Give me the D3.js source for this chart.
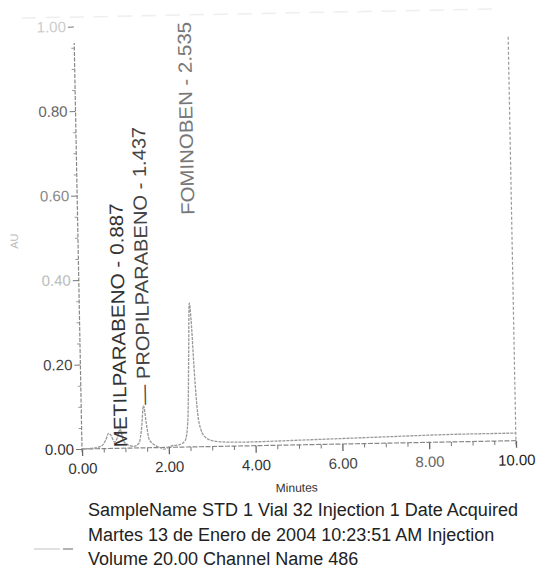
<!DOCTYPE html>
<html>
<head>
<meta charset="utf-8">
<script src="https://cdn.jsdelivr.net/npm/d3@7"></script>
<style>
  body { margin: 0; background: #fff; }
  text { font-family: "Liberation Sans", Arial, sans-serif; }
</style>
</head>
<body>
<div id="chart"></div>
<script>
// DATA
const times = [0.00, 0.30, 0.45, 0.55, 0.62, 0.68, 0.75, 0.82, 0.887, 0.95, 1.05, 1.20, 1.32, 1.38, 1.437, 1.49, 1.55, 1.65, 1.80, 1.90, 2.05, 2.25, 2.38, 2.45, 2.50, 2.535, 2.57, 2.62, 2.68, 2.75, 2.85, 3.00, 3.30, 3.80, 5.00, 6.00, 7.00, 8.00, 9.00, 10.00];
const absorbance = [0.000, 0.002, 0.006, 0.020, 0.036, 0.030, 0.015, 0.025, 0.045, 0.020, 0.008, 0.004, 0.012, 0.045, 0.100, 0.060, 0.020, 0.008, 0.000, -0.004, 0.003, 0.006, 0.015, 0.060, 0.220, 0.340, 0.300, 0.180, 0.080, 0.040, 0.022, 0.014, 0.010, 0.009, 0.011, 0.013, 0.015, 0.017, 0.018, 0.018];

const peakTimes = [0.887, 1.437, 2.535];
const peakLabels = ["METILPARABENO - 0.887", "\u2014 PROPILPARABENO - 1.437", "FOMINOBEN - 2.535"];

const xTicks = [0, 2, 4, 6, 8, 10];
const yTicks = [0, 0.2, 0.4, 0.6, 0.8, 1.0];

const footerLines = [
  "SampleName STD 1 Vial 32 Injection 1 Date Acquired",
  "Martes 13 de Enero de 2004 10:23:51 AM Injection",
  "Volume 20.00 Channel Name 486"
];

// layout (pixels) for the rotated labels: bottom start and length
const labelStart = [448, 406, 217];
const labelLength = [244, 278, 193];
const labelColor = ["#333", "#444", "#777"];

// CANVAS
const svg = d3.select("#chart")
  .append("svg")
  .attr("width", 540)
  .attr("height", 582);

svg.append("rect").attr("width", 540).attr("height", 582).attr("fill", "#fff");

// the scan is slightly tilted
const chart = svg.append("g")
  .attr("transform", "rotate(-1.1, 82, 449)");

// SCALE
const x = d3.scaleLinear().domain([0, 10]).range([82, 516]);
const y = d3.scaleLinear().domain([0, 1.0]).range([449, 26.5]);

// FRAME
chart.append("line")
  .attr("x1", x(0)).attr("x2", x(0))
  .attr("y1", y(0) + 3).attr("y2", 43)
  .attr("stroke", "#888").attr("stroke-width", 1.2)
  .attr("stroke-dasharray", "4,1.5");
chart.append("line")
  .attr("x1", x(10)).attr("x2", x(10))
  .attr("y1", y(0) + 4).attr("y2", 43)
  .attr("stroke", "#999").attr("stroke-width", 1.2)
  .attr("stroke-dasharray", "3,2");
chart.append("line")
  .attr("x1", x(0)).attr("x2", x(10))
  .attr("y1", y(0)).attr("y2", y(0))
  .attr("stroke", "#888").attr("stroke-width", 1.2)
  .attr("stroke-dasharray", "5,1.5");
chart.append("line")
  .attr("x1", 30).attr("x2", 510)
  .attr("y1", 17).attr("y2", 17)
  .attr("stroke", "#eee").attr("stroke-width", 1.5)
  .attr("stroke-dasharray", "14,10");

// AXIS
const yMinor = d3.range(0, 1.0001, 0.05).filter((v) => yTicks.indexOf(+v.toFixed(2)) < 0);
chart.append("g")
  .attr("transform", `translate(${x(0)},0)`)
  .call(d3.axisLeft(y).tickValues(yMinor).tickSize(3).tickFormat(""))
  .call((g) => g.select(".domain").remove())
  .selectAll("line").attr("stroke", "#999");

const yLabelColor = ["#333", "#444", "#bbb", "#888", "#666", "#ccc"];
chart.append("g")
  .attr("class", "yAxis")
  .attr("transform", `translate(${x(0)},0)`)
  .call(d3.axisLeft(y).tickValues(yTicks).tickSize(6).tickPadding(2).tickFormat(d3.format(".2f")))
  .call((g) => {
    g.select(".domain").remove();
    g.selectAll("line").attr("stroke", "#777");
    g.selectAll("text")
      .attr("font-size", 15)
      .attr("font-family", "Liberation Sans, Arial, sans-serif")
      .attr("fill", (d, i) => yLabelColor[i]);
  });

const xMinor = d3.range(0, 10.001, 0.5).filter((v) => v % 2 !== 0);
chart.append("g")
  .attr("transform", `translate(0,${y(0)})`)
  .call(d3.axisBottom(x).tickValues(xMinor).tickSize(4).tickFormat(""))
  .call((g) => g.select(".domain").remove())
  .selectAll("line").attr("stroke", "#777");

const xLabelColor = ["#333", "#333", "#333", "#444", "#666", "#222"];
chart.append("g")
  .attr("class", "xAxis")
  .attr("transform", `translate(0,${y(0)})`)
  .call(d3.axisBottom(x).tickValues(xTicks).tickSize(7).tickPadding(7).tickFormat(d3.format(".2f")))
  .call((g) => {
    g.select(".domain").remove();
    g.selectAll("line").attr("stroke", "#666").attr("stroke-width", 1.3);
    g.selectAll("text")
      .attr("font-size", 15)
      .attr("font-family", "Liberation Sans, Arial, sans-serif")
      .attr("fill", (d, i) => xLabelColor[i]);
  });

// LABELS
chart.append("text")
  .attr("x", (x(0) + x(10)) / 2 - 3)
  .attr("y", 496)
  .attr("text-anchor", "middle")
  .attr("font-size", 12)
  .attr("fill", "#333")
  .text("Minutes");

chart.append("text")
  .attr("transform", "translate(22, 240) rotate(-90)")
  .attr("text-anchor", "middle")
  .attr("font-size", 11)
  .attr("fill", "#bbb")
  .text("AU");

// TRACE
const trace = times.map((t, i) => ({ t: t, a: absorbance[i] }));
const line = d3.line()
  .x((d) => x(d.t))
  .y((d) => y(d.a))
  .curve(d3.curveMonotoneX);

chart.append("path")
  .datum(trace)
  .attr("d", line)
  .attr("fill", "none")
  .attr("stroke", "#999")
  .attr("stroke-width", 1.3)
  .attr("stroke-dasharray", "3,1");

// PEAK LABELS
chart.selectAll(".peakLabel")
  .data(peakTimes)
  .enter()
  .append("text")
  .attr("class", "peakLabel")
  .attr("transform", (d, i) => `translate(${x(d)}, ${labelStart[i]}) rotate(-90)`)
  .attr("dy", "0.36em")
  .attr("font-size", 19)
  .attr("textLength", (d, i) => labelLength[i])
  .attr("lengthAdjust", "spacingAndGlyphs")
  .attr("fill", (d, i) => labelColor[i])
  .text((d, i) => peakLabels[i]);

// FOOTER (kept level so the lines don't collide)
svg.selectAll(".footer")
  .data(footerLines)
  .enter()
  .append("text")
  .attr("class", "footer")
  .attr("x", 88)
  .attr("y", (d, i) => 516 + i * 24.5)
  .attr("font-size", 18)
  .attr("fill", "#222")
  .text((d) => d);

svg.append("line")
  .attr("x1", 34).attr("x2", 60)
  .attr("y1", 549).attr("y2", 549)
  .attr("stroke", "#ccc").attr("stroke-width", 1.2);
svg.append("line")
  .attr("x1", 63).attr("x2", 73)
  .attr("y1", 549).attr("y2", 549)
  .attr("stroke", "#999").attr("stroke-width", 1.5);
</script>
</body>
</html>
